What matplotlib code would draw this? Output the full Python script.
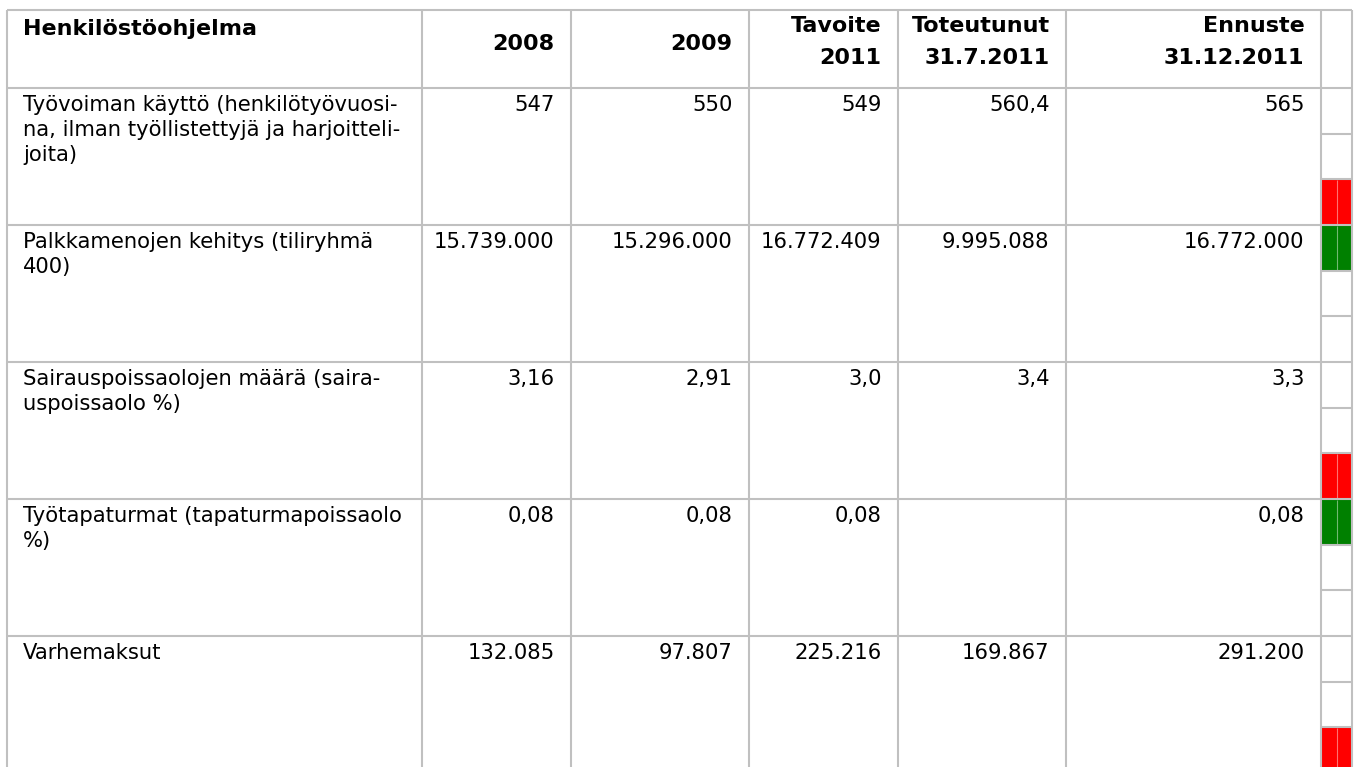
import matplotlib
matplotlib.use("Agg")
import matplotlib.pyplot as plt
from matplotlib.patches import Rectangle

# --- data -------------------------------------------------------------
header_title = "Henkilöstöohjelma"
columns = ["2008", "2009", "Tavoite\n2011", "Toteutunut\n31.7.2011", "Ennuste\n31.12.2011"]

row_labels = [
    "Työvoiman käyttö (henkilötyövuosi-\nna, ilman työllistettyjä ja harjoitteli-\njoita)",
    "Palkkamenojen kehitys (tiliryhmä\n400)",
    "Sairauspoissaolojen määrä (saira-\nuspoissaolo %)",
    "Työtapaturmat (tapaturmapoissaolo\n%)",
    "Varhemaksut",
]

v_2008 = ["547", "15.739.000", "3,16", "0,08", "132.085"]
v_2009 = ["550", "15.296.000", "2,91", "0,08", "97.807"]
v_tavoite = ["549", "16.772.409", "3,0", "0,08", "225.216"]
v_toteutunut = ["560,4", "9.995.088", "3,4", "", "169.867"]
v_ennuste = ["565", "16.772.000", "3,3", "0,08", "291.200"]

status = ["bad", "good", "bad", "good", "bad"]

# --- layout / style ---------------------------------------------------
W, H = 1359, 767
col_edges = [7, 422, 571, 749, 898, 1066, 1321, 1352]
top, head_bottom, row_h = 10, 88, 137
grid_color = "#c0c0c0"
fs = 15.2
fs_head = 16
line_sp = 25.3
status_style = {"good": ("#008000", 0), "bad": ("#ff0000", 2)}

plt.rcParams['font.family'] = ['DejaVu Sans']

fig = plt.figure(figsize=(W / 100, H / 100), dpi=100)
ax = fig.add_axes([0, 0, 1, 1])
ax.set_xlim(0, W)
ax.set_ylim(H, 0)
ax.axis('off')

n_rows = len(row_labels)
row_edges = [head_bottom + i * row_h for i in range(n_rows + 1)]

# status sub-cells (drawn first, grid goes on top)
sx0, sx1 = col_edges[-2], col_edges[-1]
for i, s in enumerate(status):
    color, slot = status_style[s]
    y0 = row_edges[i] + slot * row_h / 3
    ax.add_patch(Rectangle((sx0 + 1, y0 + 1), sx1 - sx0 - 1, row_h / 3 - 2,
                           facecolor=color, edgecolor='none', zorder=1))
    ax.vlines((sx0 + sx1) / 2, y0 + 1, y0 + row_h / 3 - 1, color='white',
              alpha=0.45, lw=0.8, zorder=2)

# grid
lw = 1.5
ax.hlines([top, head_bottom] + row_edges[1:], col_edges[0], col_edges[-1],
          color=grid_color, lw=lw, zorder=3)
ax.vlines(col_edges, top, row_edges[-1], color=grid_color, lw=lw, zorder=3)
for i in range(n_rows):
    for k in (1, 2):
        ax.hlines(row_edges[i] + k * row_h / 3, sx0, sx1, color=grid_color, lw=lw, zorder=3)

# header
ax.text(23, 35, header_title, fontsize=fs_head, fontweight='bold', ha='left', va='baseline')
pad = 16.5
for j, name in enumerate(columns):
    xr = col_edges[j + 2] - pad
    lines = name.split("\n")
    if len(lines) == 1:
        ax.text(xr, 50.5, lines[0], fontsize=fs_head, fontweight='bold', ha='right', va='baseline')
    else:
        for k, ln in enumerate(lines):
            ax.text(xr, 31.5 + k * 32, ln, fontsize=fs_head, fontweight='bold', ha='right', va='baseline')

# body
values = [v_2008, v_2009, v_tavoite, v_toteutunut, v_ennuste]
for i, label in enumerate(row_labels):
    yb = row_edges[i] + 22.7
    for k, ln in enumerate(label.split("\n")):
        ax.text(23, yb + k * line_sp, ln, fontsize=fs, ha='left', va='baseline')
    for j, col in enumerate(values):
        ax.text(col_edges[j + 2] - pad, yb, col[i], fontsize=fs, ha='right', va='baseline')

fig.savefig("out.png", dpi=100)
